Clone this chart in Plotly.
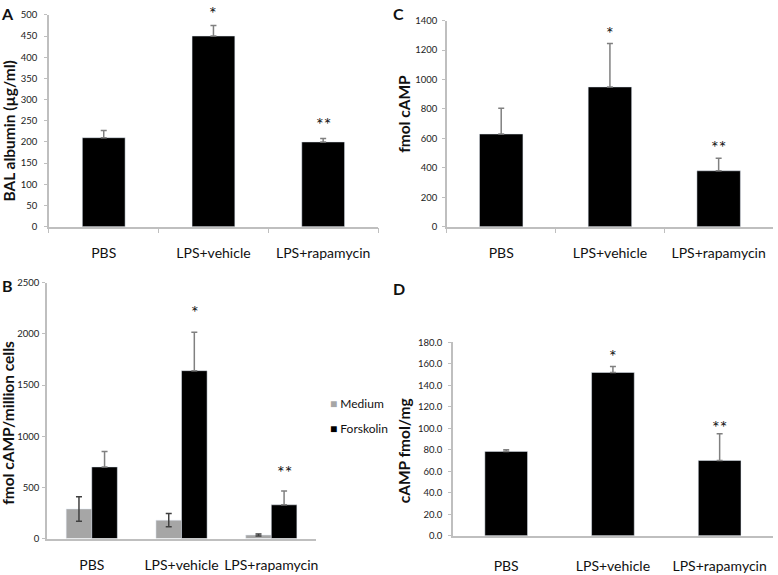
import plotly.graph_objects as go

categories = ["PBS", "LPS+vehicle", "LPS+rapamycin"]

# Panel A: BAL albumin
a_values = [210, 450, 200]
a_err = [17, 25, 8]
a_star_text = ["", "*", "**"]
a_star_y = [0, 509, 248]

# Panel B: fmol cAMP / million cells
b_medium = [290, 180, 35]
b_medium_err = [120, 65, 10]
b_forskolin = [700, 1640, 330]
b_forskolin_err = [150, 375, 135]
b_star_text = ["", "*", "**"]
b_star_y = [0, 2232, 670]

# Panel C: fmol cAMP
c_values = [630, 950, 380]
c_err = [175, 295, 85]
c_star_text = ["", "*", "**"]
c_star_y = [0, 1333, 553]

# Panel D: cAMP fmol/mg
d_values = [78.5, 152.0, 70.0]
d_err = [1.5, 5.5, 25.0]
d_star_text = ["", "*", "**"]
d_star_y = [0, 169, 103]

legend_names = ["Medium", "Forskolin"]
legend_colors = ["#a6a6a6", "#000000"]

y_titles = ["BAL albumin (µg/ml)", "fmol cAMP", "fmol cAMP/million cells", "cAMP fmol/mg"]
panel_labels = ["A", "C", "B", "D"]

W, H = 778, 575
FONT = "Lato"
AXIS_COLOR = "#bfbfbf"
ERR_COLOR = "#808080"


def px(x0, x1):
    return [x0 / W, x1 / W]


def py(top, bottom):
    return [1 - bottom / H, 1 - top / H]


fig = go.Figure()


def up_err(vals):
    return dict(type="data", array=vals, arrayminus=[0] * len(vals), symmetric=False,
                color=ERR_COLOR, thickness=1.5, width=3)


fig.add_trace(go.Bar(x=categories, y=a_values, width=0.39, marker_color="black",
                     error_y=up_err(a_err), xaxis="x", yaxis="y", showlegend=False))
fig.add_trace(go.Bar(x=categories, y=c_values, width=0.40, marker_color="black",
                     error_y=up_err(c_err), xaxis="x2", yaxis="y2", showlegend=False))
fig.add_trace(go.Bar(x=categories, y=b_medium, width=0.285, offset=-0.285, marker_color=legend_colors[0],
                     name=legend_names[0], showlegend=False,
                     error_y=dict(type="data", array=b_medium_err, color="#404040", thickness=1.5, width=3),
                     xaxis="x3", yaxis="y3"))
fig.add_trace(go.Bar(x=categories, y=b_forskolin, width=0.285, offset=0, marker_color=legend_colors[1],
                     name=legend_names[1], showlegend=False,
                     error_y=up_err(b_forskolin_err), xaxis="x3", yaxis="y3"))
fig.add_trace(go.Bar(x=categories, y=d_values, width=0.40, marker_color="black",
                     error_y=up_err(d_err), xaxis="x4", yaxis="y4", showlegend=False))

tickfont = dict(family=FONT, size=9.5, color="#222")
catfont = dict(family=FONT, size=14, color="#111")
titlefont = dict(family=FONT, size=15.5, color="#111", weight="bold")

# pixel boxes (left, right, top, bottom) of the four plot areas
boxes = {
    "A": (49, 379, 9, 225),
    "C": (448, 775, 15, 225),
    "B": (47, 317, 282, 543),
    "D": (454, 775, 343, 540),
}


def xaxis(box, anchor, ticks=True, standoff=13):
    return dict(domain=px(box[0], box[1]), anchor=anchor, type="category", showline=True,
                linecolor=AXIS_COLOR, linewidth=1.5, showgrid=False, zeroline=False, tickfont=catfont,
                ticks="outside" if ticks else "", tickson="boundaries", ticklen=5, tickcolor=AXIS_COLOR,
                ticklabelstandoff=standoff)


def yaxis(box, anchor, rng, dtick, lstand, fmt=None):
    d = dict(domain=py(box[2], box[3]), anchor=anchor, range=rng, dtick=dtick, showline=True,
             linecolor=AXIS_COLOR, linewidth=1.5, showgrid=False, zeroline=False, tickfont=tickfont,
             ticks="outside", ticklen=3, tickcolor=AXIS_COLOR, ticklabelstandoff=lstand)
    if fmt:
        d["tickformat"] = fmt
    return d


ranges = {"A": [0, 500], "C": [0, 1400], "B": [0, 2500], "D": [0, 180]}

fig.update_layout(
    width=W, height=H, margin=dict(l=0, r=0, t=0, b=0),
    plot_bgcolor="white", paper_bgcolor="white", barmode="overlay",
    font=dict(family=FONT), showlegend=False,
    xaxis=xaxis(boxes["A"], "y", standoff=13),
    yaxis=yaxis(boxes["A"], "x", ranges["A"], 50, 5),
    xaxis2=xaxis(boxes["C"], "y2", standoff=13),
    yaxis2=yaxis(boxes["C"], "x2", ranges["C"], 200, 3),
    xaxis3=xaxis(boxes["B"], "y3", ticks=False, standoff=13),
    yaxis3=yaxis(boxes["B"], "x3", ranges["B"], 500, 1),
    xaxis4=xaxis(boxes["D"], "y4", ticks=False, standoff=17),
    yaxis4=yaxis(boxes["D"], "x4", ranges["D"], 20, 4, fmt=".1f"),
)

annotations = []

# y-axis titles
for key, title, xc, yc in [("A", y_titles[0], 9, 127), ("C", y_titles[1], 405, 110),
                           ("B", y_titles[2], 8, 425), ("D", y_titles[3], 405, 453)]:
    annotations.append(dict(x=xc / W, y=1 - yc / H, xref="paper", yref="paper", text=title,
                            textangle=-90, showarrow=False, xanchor="center", yanchor="middle",
                            font=titlefont))

for key, xr, yr, texts, ys in [("A", "x", "y", a_star_text, a_star_y), ("C", "x2", "y2", c_star_text, c_star_y),
                               ("B", "x3", "y3", b_star_text, b_star_y), ("D", "x4", "y4", d_star_text, d_star_y)]:
    l, r, t, b = boxes[key]
    scale = (b - t) / (ranges[key][1] - ranges[key][0])
    ymax = ranges[key][1]
    for cat, txt, yv in zip(categories, texts, ys):
        if txt:
            xshift = 13 if key == "B" else 0
            extra = (yv - ymax) * scale if yv > ymax else 0
            annotations.append(dict(x=cat, y=min(yv, ymax), xref=xr, yref=yr, text=txt, showarrow=False,
                                    xshift=xshift, yshift=-2 + extra,
                                    font=dict(family=FONT, size=18, color="#111")))

# legend for panel B (drawn as text)
for name, color, ypx in zip(legend_names, legend_colors, [405, 431]):
    annotations.append(dict(x=329 / W, y=1 - ypx / H, xref="paper", yref="paper",
                            text=f"<span style='color:{color}'>■</span> {name}", showarrow=False,
                            xanchor="left", yanchor="middle",
                            font=dict(family=FONT, size=12, color="#111")))

for label, x, y in zip(panel_labels, [8, 400, 8, 400], [8, 8, 285, 288]):
    annotations.append(dict(x=x / W, y=1 - y / H, xref="paper", yref="paper", text=label,
                            showarrow=False, xanchor="center", yanchor="middle",
                            font=dict(family=FONT, size=16, color="#111", weight="bold")))

fig.update_layout(annotations=annotations)
fig.write_html("out.html", config={"displayModeBar": False},
               post_script="document.body.style.margin='0';document.body.style.padding='0';")
